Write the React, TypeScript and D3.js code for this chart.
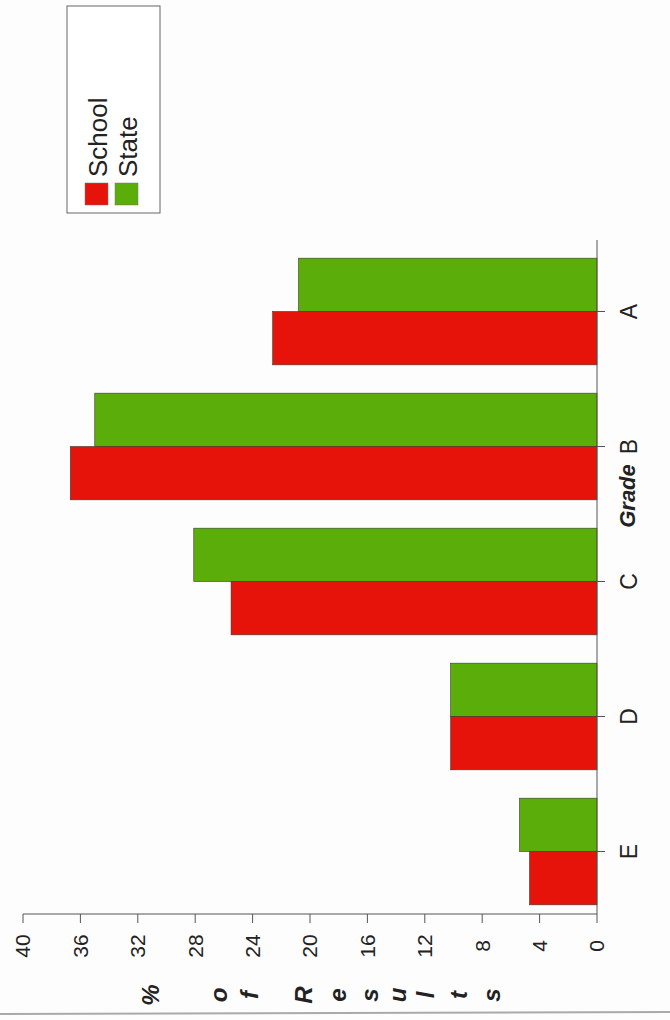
import React from "react";
import * as d3 from "d3";

const grades = ["A", "B", "C", "D", "E"];
const schoolValues = [22.6, 36.7, 25.5, 10.2, 4.7];
const stateValues = [20.8, 35.0, 28.1, 10.2, 5.4];
const seriesNames = ["School", "State"];
const valueTicks = [0, 4, 8, 12, 16, 20, 24, 28, 32, 36, 40];
const titleChars = ["%", "o", "f", "R", "e", "s", "u", "l", "t", "s"];
const titleCharX = [151, 219, 250, 304, 338, 370, 398, 426, 459, 492];

const RED = "#e6130b";
const GREEN = "#5bad0a";
const FONT = "'Liberation Sans', Arial, Helvetica, sans-serif";

export default function App() {
  const W = 670;
  const H = 1020;
  const axisX = 597;
  const axisY = 914;

  const x = d3.scaleLinear().domain([0, 40]).range([axisX, 23]);
  const y = d3
    .scaleBand<string>()
    .domain(grades)
    .range([244, 919])
    .paddingInner(0.21)
    .paddingOuter(0.105);
  const sub = d3
    .scaleBand<string>()
    .domain(["State", "School"])
    .range([0, y.bandwidth()]);

  const data = grades.map((g, i) => ({
    g,
    School: schoolValues[i],
    State: stateValues[i],
  }));
  const colors: Record<string, string> = { School: RED, State: GREEN };

  return (
    <svg
      width={W}
      height={H}
      style={{ position: "absolute", left: 0, top: 0, display: "block", background: "#fff" }}
      fontFamily={FONT}
    >
      <rect x={0} y={0} width={W} height={H} fill="#fdfdfd" />

      {/* bars */}
      {data.map((d) => (
        <g key={d.g}>
          {["State", "School"].map((s) => {
            const v = (d as any)[s] as number;
            return (
              <rect
                key={s}
                x={x(v)}
                y={(y(d.g) as number) + (sub(s) as number)}
                width={x(0) - x(v)}
                height={sub.bandwidth()}
                fill={colors[s]}
                stroke="#3a3a2a"
                strokeWidth={0.6}
              />
            );
          })}
        </g>
      ))}

      {/* category axis */}
      <line x1={axisX} x2={axisX} y1={240} y2={axisY} stroke="#555" strokeWidth={1} />
      {grades.map((g) => {
        const cy = (y(g) as number) + y.bandwidth() / 2;
        return (
          <g key={g}>
            <line x1={axisX} x2={axisX + 8} y1={cy} y2={cy} stroke="#555" strokeWidth={1} />
            <text
              transform={`translate(629,${cy}) rotate(-90)`}
              textAnchor="middle"
              dy="0.35em"
              fontSize={23}
              fill="#222"
            >
              {g}
            </text>
          </g>
        );
      })}
      <text
        transform={`translate(627,496) rotate(-90)`}
        textAnchor="middle"
        dy="0.35em"
        fontSize={22}
        fontWeight="bold"
        fontStyle="italic"
        fill="#222"
      >
        Grade
      </text>

      {/* value axis */}
      <line x1={x(40)} x2={axisX} y1={axisY} y2={axisY} stroke="#555" strokeWidth={1} />
      {valueTicks.map((t) => (
        <g key={t}>
          <line x1={x(t)} x2={x(t)} y1={axisY} y2={axisY + 9} stroke="#555" strokeWidth={1} />
          <text
            transform={`translate(${x(t)},946) rotate(-90)`}
            textAnchor="middle"
            dy="0.35em"
            fontSize={21}
            fill="#222"
          >
            {t}
          </text>
        </g>
      ))}
      {titleChars.map((c, i) => (
        <text
          key={i}
          transform={`translate(${titleCharX[i]},995) rotate(-90)`}
          textAnchor="middle"
          dy="0.35em"
          fontSize={24}
          fontWeight="bold"
          fontStyle="italic"
          fill="#222"
        >
          {c}
        </text>
      ))}

      {/* legend */}
      <rect x={67} y={6} width={93} height={207} fill="#fff" stroke="#666" strokeWidth={1} />
      {seriesNames.map((s, i) => (
        <g key={s}>
          <rect x={85 + i * 30} y={183} width={23} height={22} fill={colors[s]} stroke="#777" strokeWidth={0.5} />
          <text
            transform={`translate(${98 + i * 30},177) rotate(-90)`}
            textAnchor="start"
            dy="0.35em"
            fontSize={26}
            fill="#222"
          >
            {s}
          </text>
        </g>
      ))}

      {/* scan edge */}
      <line x1={0} x2={W} y1={1014} y2={1012} stroke="#aaa" strokeWidth={2} />
    </svg>
  );
}
